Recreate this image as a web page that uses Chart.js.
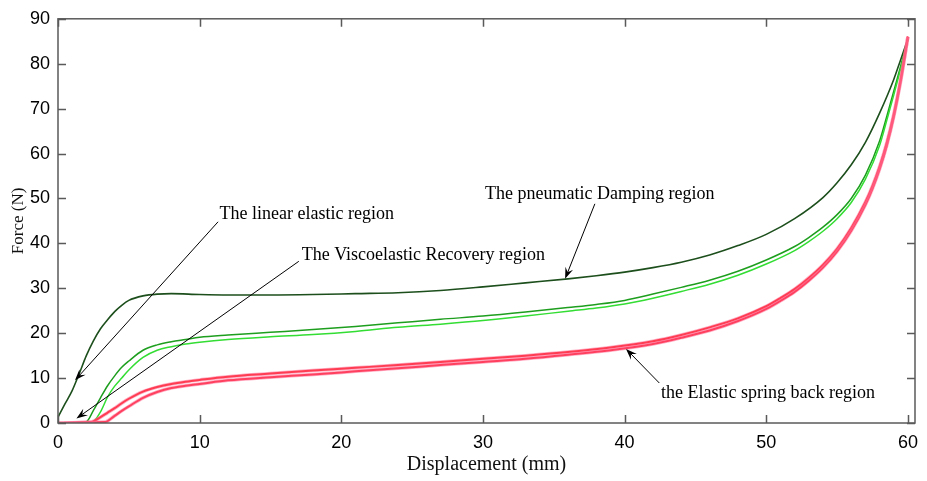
<!DOCTYPE html>
<html>
<head>
<meta charset="utf-8">
<script src="https://cdn.jsdelivr.net/npm/chart.js@4.4.1/dist/chart.umd.min.js"></script>
<style>
html, body { margin: 0; padding: 0; background: #fff; }
</style>
</head>
<body>
<canvas id="chart" width="927" height="481"></canvas>
<script>
// loading curve (dark green)
const darkX = [0, 0.5, 1, 1.5, 2, 2.5, 3, 3.5, 4, 4.5, 5, 6, 7, 8, 10, 12, 15, 18, 21, 24, 27, 30, 33, 36, 38, 40, 42, 44, 46, 48, 50, 52, 54, 55, 56, 57, 58, 59, 59.5, 60];
const darkY = [1.3, 4.3, 7.2, 11, 15, 18.3, 21, 23, 24.8, 26.2, 27.3, 28.3, 28.7, 28.8, 28.6, 28.5, 28.5, 28.6, 28.8, 29.0, 29.5, 30.3, 31.2, 32.1, 32.8, 33.6, 34.6, 35.8, 37.4, 39.5, 42.0, 45.5, 50.2, 53.5, 57.5, 62.5, 69, 76.5, 81, 85.5];

// viscoelastic curves (green)
const greenAX = [0, 2.0, 2.5, 3, 3.5, 4, 4.5, 5, 6, 7, 8, 9, 10, 12, 15, 18, 21, 24, 27, 30, 33, 36, 38, 40, 42, 44, 46, 48, 50, 52, 53, 54, 55, 56, 57, 58, 58.5, 59, 59.5, 60];
const greenAY = [0, 0.3, 2.8, 5.6, 8.3, 10.5, 12.4, 13.8, 16.2, 17.4, 18.1, 18.6, 19.1, 19.6, 20.2, 20.8, 21.5, 22.3, 23.1, 23.8, 24.7, 25.7, 26.4, 27.3, 28.7, 30.2, 31.8, 33.8, 36.3, 39.3, 41.3, 43.6, 46.4, 50.0, 55.2, 62.8, 68.2, 73.9, 79.6, 85.5];
const greenBX = [0, 2.4, 3, 3.5, 4, 4.5, 5, 6, 7, 8, 9, 10, 12, 15, 18, 21, 24, 27, 30, 33, 36, 38, 40, 42, 44, 46, 48, 50, 52, 53, 54, 55, 56, 57, 58, 58.5, 59, 59.5, 60];
const greenBY = [0, 0.2, 2.5, 5.8, 8.2, 10.0, 11.8, 14.6, 16.2, 17.0, 17.6, 18.0, 18.6, 19.2, 19.7, 20.4, 21.3, 22.0, 22.8, 23.8, 24.9, 25.6, 26.5, 27.8, 29.3, 30.9, 32.9, 35.4, 38.4, 40.4, 42.7, 45.5, 49.1, 54.3, 61.8, 67.3, 73, 79, 85.3];

// spring back curves (red)
const redAX = [0, 2.3, 3, 3.5, 4, 4.5, 5, 6, 7, 8, 9, 10, 12, 15, 18, 21, 24, 27, 30, 33, 36, 39, 42, 44, 46, 48, 50, 51, 52, 53, 54, 55, 56, 57, 57.5, 58, 58.5, 59, 59.5, 60];
const redAY = [0, 0.2, 1.3, 2.3, 3.3, 4.4, 5.4, 7.0, 8.0, 8.7, 9.2, 9.6, 10.3, 11.0, 11.7, 12.3, 12.9, 13.6, 14.3, 15.0, 15.8, 16.8, 18.2, 19.6, 21.3, 23.3, 26.0, 27.8, 29.8, 32.3, 35.2, 38.8, 43.4, 49.2, 52.8, 57.1, 62.3, 68.7, 76.7, 86];
const redBX = [0, 3.3, 4, 4.5, 5, 6, 7, 8, 9, 10, 12, 15, 18, 21, 24, 27, 30, 33, 36, 39, 42, 44, 46, 48, 50, 51, 52, 53, 54, 55, 56, 57, 57.5, 58, 58.5, 59, 59.5, 60];
const redBY = [0, 0.2, 1.6, 2.7, 3.7, 5.6, 6.9, 7.8, 8.3, 8.7, 9.5, 10.2, 10.8, 11.5, 12.2, 12.9, 13.6, 14.3, 15.2, 16.2, 17.6, 19.0, 20.6, 22.7, 25.4, 27.2, 29.2, 31.7, 34.6, 38.2, 42.8, 48.6, 52.2, 56.5, 61.7, 68.2, 76.3, 86];

const xTicks = [0, 10, 20, 30, 40, 50, 60];
const yTicks = [0, 10, 20, 30, 40, 50, 60, 70, 80, 90];

// annotations: text baseline start, arrow from / tip (data units)
const notes = [
  { text: "The linear elastic region", at: [11.4, 45.4], from: [11.3, 44.8], tip: [1.2, 9.5] },
  { text: "The Viscoelastic Recovery region", at: [17.2, 36.4], from: [17.0, 36.0], tip: [1.3, 1.0] },
  { text: "The pneumatic Damping region", at: [30.15, 49.9], from: [37.9, 48.8], tip: [35.8, 32.1] },
  { text: "the Elastic spring back region", at: [42.57, 5.5], from: [42.45, 8.9], tip: [40.1, 16.5] }
];

const pts = (xs, ys) => xs.map((v, i) => ({ x: v, y: ys[i] }));

function line(data, color, width) {
  return {
    data: data,
    borderColor: color,
    borderWidth: width,
    pointRadius: 0,
    showLine: true,
    cubicInterpolationMode: "monotone",
    fill: false
  };
}

const frame = {
  id: "frame",
  afterDatasetsDraw(chart) {
    const { ctx, chartArea: a, scales: { x, y } } = chart;
    ctx.save();
    ctx.strokeStyle = "#5a5a5a";
    ctx.lineWidth = 1.5;
    ctx.strokeRect(a.left, a.top, a.right - a.left, a.bottom - a.top);
    ctx.beginPath();
    xTicks.forEach(v => {
      const px = Math.round(x.getPixelForValue(v)) + 0.5;
      ctx.moveTo(px, a.bottom); ctx.lineTo(px, a.bottom - 8);
      ctx.moveTo(px, a.top); ctx.lineTo(px, a.top + 8);
    });
    yTicks.forEach(v => {
      const py = Math.round(y.getPixelForValue(v)) + 0.5;
      ctx.moveTo(a.left, py); ctx.lineTo(a.left + 8, py);
      ctx.moveTo(a.right, py); ctx.lineTo(a.right - 8, py);
    });
    ctx.stroke();
    ctx.restore();
  },
  afterDraw(chart) {
    const { ctx, scales: { x, y } } = chart;
    ctx.save();
    ctx.font = "18px 'Liberation Serif', 'Times New Roman', serif";
    ctx.fillStyle = "#000";
    ctx.strokeStyle = "#000";
    ctx.lineWidth = 1;
    ctx.textBaseline = "alphabetic";
    notes.forEach(n => {
      ctx.fillText(n.text, x.getPixelForValue(n.at[0]), y.getPixelForValue(n.at[1]));
      const x0 = x.getPixelForValue(n.from[0]), y0 = y.getPixelForValue(n.from[1]);
      const x1 = x.getPixelForValue(n.tip[0]), y1 = y.getPixelForValue(n.tip[1]);
      const ang = Math.atan2(y1 - y0, x1 - x0);
      ctx.beginPath();
      ctx.moveTo(x0, y0);
      ctx.lineTo(x1 - 6 * Math.cos(ang), y1 - 6 * Math.sin(ang));
      ctx.stroke();
      ctx.beginPath();
      ctx.moveTo(x1, y1);
      ctx.lineTo(x1 - 12 * Math.cos(ang - 0.35), y1 - 12 * Math.sin(ang - 0.35));
      ctx.lineTo(x1 - 7 * Math.cos(ang), y1 - 7 * Math.sin(ang));
      ctx.lineTo(x1 - 12 * Math.cos(ang + 0.35), y1 - 12 * Math.sin(ang + 0.35));
      ctx.closePath();
      ctx.fill();
    });
    ctx.restore();
  }
};

new Chart(document.getElementById("chart"), {
  type: "scatter",
  data: {
    datasets: [
      line(pts(redBX, redBY), "rgba(255,110,150,0.55)", 3.5),
      line(pts(redAX, redAY), "rgba(255,110,150,0.55)", 3.5),
      line(pts(redBX, redBY), "#ff0a1e", 2),
      line(pts(redAX, redAY), "#ff0000", 2),
      line(pts(greenBX, greenBY), "#33dd33", 1.5),
      line(pts(greenAX, greenAY), "#1e9e1e", 1.5),
      line(pts(darkX, darkY), "#1d4f1d", 1.6)
    ]
  },
  options: {
    responsive: false,
    animation: false,
    layout: { padding: { top: 15, right: 9, left: 0, bottom: 0 } },
    plugins: { legend: { display: false }, tooltip: { enabled: false } },
    scales: {
      x: {
        type: "linear",
        min: 0,
        max: 60.5,
        grid: { display: false, drawTicks: false },
        border: { display: false },
        ticks: { stepSize: 10, includeBounds: false, padding: 9, color: "#000",
          font: { family: "'Liberation Sans', Arial, sans-serif", size: 18 } },
        title: { display: true, text: "Displacement (mm)", color: "#111",
          font: { family: "'Liberation Serif', 'Times New Roman', serif", size: 20 },
          padding: { top: 0, bottom: 4 } },
        afterFit(s) { s.height = 58; }
      },
      y: {
        min: 0,
        max: 90,
        grid: { display: false, drawTicks: false },
        border: { display: false },
        ticks: { stepSize: 10, padding: 8, color: "#000",
          font: { family: "'Liberation Sans', Arial, sans-serif", size: 18 } },
        title: { display: true, text: "Force (N)", color: "#111",
          font: { family: "'Liberation Serif', 'Times New Roman', serif", size: 17 },
          padding: { top: 8, bottom: 0 } },
        afterFit(s) { s.width = 58; }
      }
    }
  },
  plugins: [frame]
});
</script>
</body>
</html>
